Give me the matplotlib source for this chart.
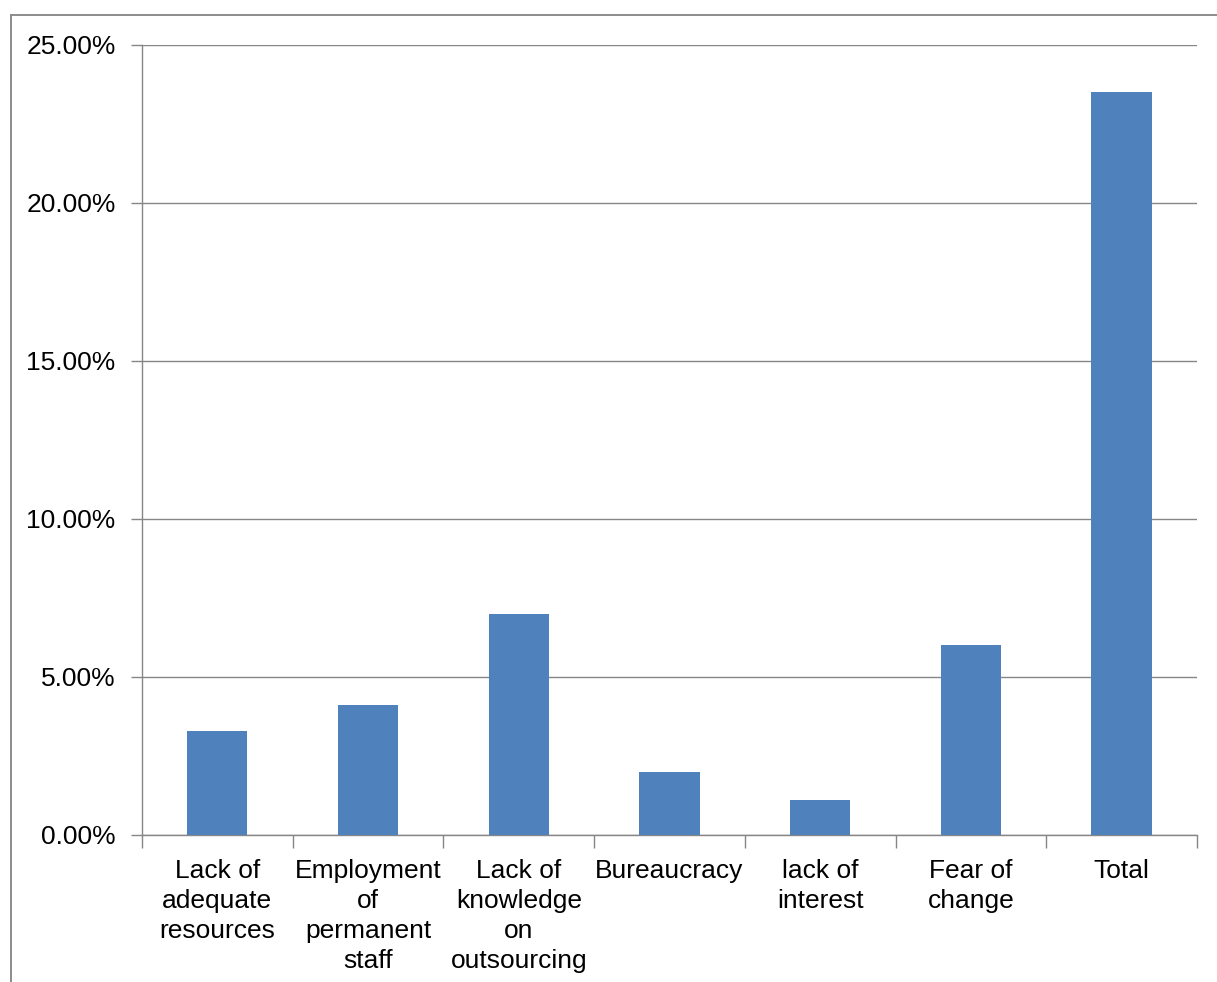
import numpy as np
import matplotlib
matplotlib.use("Agg")
import matplotlib.pyplot as plt
from matplotlib.lines import Line2D
from matplotlib.ticker import PercentFormatter, FixedLocator

plt.rcParams['font.family'] = ['Liberation Sans', 'DejaVu Sans']

# Chart data (percent of respondents)
categories = ["Lack of\nadequate\nresources", "Employment\nof\npermanent\nstaff",
              "Lack of\nknowledge\non\noutsourcing", "Bureaucracy", "lack of\ninterest",
              "Fear of\nchange", "Total"]
values = [3.3, 4.1, 7.0, 2.0, 1.1, 6.0, 23.5]
y_ticks = [0, 5, 10, 15, 20, 25]

bar_color = '#4F81BD'
grid_color = '#868686'

fig = plt.figure(figsize=(12.17, 9.82), dpi=100)
ax = fig.add_axes([142 / 1217, 1 - 835 / 982, (1197 - 142) / 1217, (835 - 45) / 982])

x = np.arange(len(categories))
ax.bar(x, values, width=0.4, color=bar_color, zorder=3)

ax.set_xlim(-0.5, len(categories) - 0.5)
ax.set_ylim(0, 25)
ax.yaxis.set_major_locator(FixedLocator(y_ticks))
ax.yaxis.set_major_formatter(PercentFormatter(decimals=2))
ax.yaxis.grid(True, color=grid_color, linewidth=1.0, zorder=0)

# category labels in the middle, ticks at the boundaries
ax.set_xticks(x)
ax.set_xticklabels(categories, fontsize=19, linespacing=1.32)
ax.set_xticks(np.arange(len(categories) + 1) - 0.5, minor=True)
ax.tick_params(axis='x', which='major', length=0, pad=17)
ax.tick_params(axis='x', which='minor', length=9, width=1.0, color=grid_color, direction='out')
ax.tick_params(axis='y', length=8, width=1.0, color=grid_color, labelsize=19, pad=11)

for side in ['top', 'right']:
    ax.spines[side].set_visible(False)
ax.spines['left'].set_color(grid_color)
ax.spines['bottom'].set_color(grid_color)
ax.spines['left'].set_linewidth(1.0)
ax.spines['bottom'].set_linewidth(1.0)

# outer chart frame, cut off at right and bottom
fig.add_artist(Line2D([11 / 1217, 1.0], [1 - 15 / 982, 1 - 15 / 982],
                      transform=fig.transFigure, color='#8c8c8c', linewidth=1.4))
fig.add_artist(Line2D([11 / 1217, 11 / 1217], [1 - 15 / 982, 0.0],
                      transform=fig.transFigure, color='#8c8c8c', linewidth=1.4))

fig.savefig("out.png", dpi=100)
